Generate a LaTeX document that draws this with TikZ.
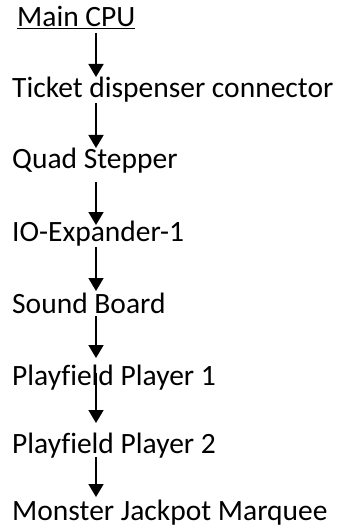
\documentclass[tikz,border=0pt]{standalone}
\usepackage{fontspec}
\setmainfont[Ligatures=NoCommon]{Carlito}
\usetikzlibrary{arrows.meta}

\begin{document}
\begin{tikzpicture}[x=1pt,y=-1pt,
  board/.style={anchor=base west,inner sep=0pt,font={\fontsize{29.5}{31}\selectfont}},
  flow/.style={line width=1.8pt,-{Triangle[length=13pt,width=15pt]}}]
\useasboundingbox (0,0) rectangle (337,529);
\node[board] (cpu) at (17,27) {\underline{Main CPU}};
\node[board] (ticket) at (12,98) {Ticket dispenser connector};
\node[board] (quad) at (12,169) {Quad Stepper};
\node[board] (io) at (12,241) {IO-Expander-1};
\node[board] (sound) at (12,313) {Sound Board};
\node[board] (pf1) at (12,385) {Playfield Player 1};
\node[board] (pf2) at (12,453) {Playfield Player 2};
\node[board] (marquee) at (12,520) {Monster Jackpot Marquee};
% arrow ends
\coordinate (a1) at (96,33);  \coordinate (b1) at (96,77);
\coordinate (a2) at (96,103); \coordinate (b2) at (96,148);
\coordinate (a3) at (96,182); \coordinate (b3) at (96,225);
\coordinate (a4) at (96,247); \coordinate (b4) at (96,291);
\coordinate (a5) at (96,316); \coordinate (b5) at (96,358);
\coordinate (a6) at (96,373); \coordinate (b6) at (96,423);
\coordinate (a7) at (96,457); \coordinate (b7) at (96,497);
\foreach \i in {1,...,7}
  \draw[flow] (a\i) -- (b\i);
\end{tikzpicture}
\end{document}
